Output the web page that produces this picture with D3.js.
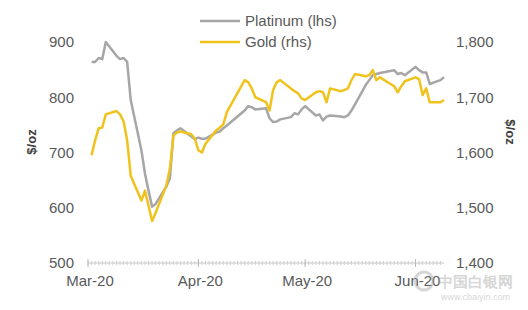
<!DOCTYPE html>
<html>
<head>
<meta charset="utf-8">
<script src="https://cdn.jsdelivr.net/npm/d3@7"></script>
<style>
  body { margin: 0; background: #fff; }
  text { font-family: "Liberation Sans", Arial, sans-serif; }
</style>
</head>
<body>
<div id="chart"></div>
<script>
// Platinum vs gold, daily fixes Mar-Jun 2020
var dates = [
  "2020-03-02","2020-03-03","2020-03-04","2020-03-05","2020-03-06",
  "2020-03-09","2020-03-10","2020-03-11","2020-03-12","2020-03-13",
  "2020-03-16","2020-03-17","2020-03-18","2020-03-19","2020-03-20",
  "2020-03-23","2020-03-24","2020-03-25","2020-03-26","2020-03-27",
  "2020-03-30","2020-03-31","2020-04-01","2020-04-02","2020-04-03",
  "2020-04-06","2020-04-07","2020-04-08","2020-04-09",
  "2020-04-14","2020-04-15","2020-04-16","2020-04-17",
  "2020-04-20","2020-04-21","2020-04-22","2020-04-23","2020-04-24",
  "2020-04-27","2020-04-28","2020-04-29","2020-04-30","2020-05-01",
  "2020-05-04","2020-05-05","2020-05-06","2020-05-07","2020-05-08",
  "2020-05-11","2020-05-12","2020-05-13","2020-05-14","2020-05-15",
  "2020-05-18","2020-05-19","2020-05-20","2020-05-21","2020-05-22",
  "2020-05-26","2020-05-27","2020-05-28","2020-05-29",
  "2020-06-01","2020-06-02","2020-06-03","2020-06-04","2020-06-05",
  "2020-06-08","2020-06-09"
];

var platinum = [
  864, 864, 871, 869, 900,
  875, 869, 871, 864, 795,
  704, 662, 631, 602, 607,
  638, 653, 735, 740, 744,
  729, 724, 727, 725, 725,
  736, 738, 744, 749,
  776, 784, 782, 778,
  780, 762, 755, 756, 760,
  764, 771, 769, 778, 784,
  767, 769, 758, 765, 767,
  765, 764, 767, 776, 787,
  822, 831, 840, 842, 844,
  849, 842, 844, 840,
  855, 849, 845, 845, 824,
  831, 836
];

var gold = [
  1595, 1622, 1644, 1645, 1669,
  1675, 1669, 1656, 1622, 1558,
  1513, 1531, 1504, 1476, 1491,
  1540, 1571, 1631, 1636, 1638,
  1633, 1625, 1604, 1600, 1616,
  1640, 1645, 1651, 1673,
  1731, 1727, 1716, 1700,
  1691, 1676, 1713, 1727, 1731,
  1716, 1711, 1707, 1698, 1695,
  1709, 1711, 1709, 1691, 1716,
  1711, 1713, 1716, 1731, 1742,
  1738, 1740, 1749, 1731, 1736,
  1720, 1709, 1720, 1729,
  1736, 1733, 1704, 1716, 1691,
  1691, 1695
];

var leftTicks = [500, 600, 700, 800, 900];
var rightTicks = [1400, 1500, 1600, 1700, 1800];
var seriesNames = ["Platinum (lhs)", "Gold (rhs)"];
var seriesColors = ["#a6a6a6", "#f0c31c"];

var svgWidth = 528;
var svgHeight = 310;

var margin = { top: 42, right: 84, bottom: 48, left: 88 };
var width = svgWidth - margin.left - margin.right;
var height = svgHeight - margin.top - margin.bottom;

var parseDate = d3.timeParse("%Y-%m-%d");
var data = dates.map(function(d, i) {
  return { date: parseDate(d), platinum: platinum[i], gold: gold[i] };
});

var svg = d3.select("#chart")
  .append("svg")
  .attr("width", svgWidth)
  .attr("height", svgHeight);

var chartGroup = svg.append("g")
  .attr("transform", `translate(${margin.left}, ${margin.top})`);

// scales
var xTimeScale = d3.scaleTime()
  .domain([new Date(2020, 2, 1), new Date(2020, 5, 9)])
  .range([0, width]);

var yLeftScale = d3.scaleLinear()
  .domain([500, 900])
  .range([height + 1, 0]);

var yRightScale = d3.scaleLinear()
  .domain([1400, 1800])
  .range([height + 1, 0]);

// x axis: light line with daily minor ticks and monthly major ticks
var xAxisGroup = chartGroup.append("g")
  .attr("transform", `translate(0, ${height + 1})`);

xAxisGroup.append("line")
  .attr("x1", 0).attr("x2", width)
  .attr("stroke", "#c8c8c8");

xAxisGroup.selectAll(".minor")
  .data(d3.timeDay.range(xTimeScale.domain()[0], xTimeScale.domain()[1]))
  .enter()
  .append("line")
  .attr("x1", d => xTimeScale(d)).attr("x2", d => xTimeScale(d))
  .attr("y1", -2).attr("y2", 2)
  .attr("stroke", "#cfcfcf");

var months = d3.timeMonth.range(new Date(2020, 2, 1), new Date(2020, 5, 2));

xAxisGroup.selectAll(".major")
  .data(months)
  .enter()
  .append("line")
  .attr("x1", d => xTimeScale(d)).attr("x2", d => xTimeScale(d))
  .attr("y1", -4).attr("y2", 4)
  .attr("stroke", "#b8b8b8");

xAxisGroup.selectAll(".mlabel")
  .data(months)
  .enter()
  .append("text")
  .attr("x", d => xTimeScale(d) + 2)
  .attr("y", 23)
  .attr("text-anchor", "middle")
  .attr("font-size", "15px")
  .attr("fill", "#595959")
  .text(d3.timeFormat("%b-%y"));

// y tick labels
chartGroup.selectAll(".lt")
  .data(leftTicks)
  .enter()
  .append("text")
  .attr("x", -14)
  .attr("y", d => yLeftScale(d))
  .attr("dy", "0.35em")
  .attr("text-anchor", "end")
  .attr("font-size", "15px")
  .attr("fill", "#595959")
  .text(d => d3.format(",")(d));

chartGroup.selectAll(".rt")
  .data(rightTicks)
  .enter()
  .append("text")
  .attr("x", width + 12)
  .attr("y", d => yRightScale(d))
  .attr("dy", "0.35em")
  .attr("text-anchor", "start")
  .attr("font-size", "15px")
  .attr("fill", "#595959")
  .text(d => d3.format(",")(d));

// axis titles
chartGroup.append("text")
  .attr("transform", `translate(${-52}, ${height / 2 - 10}) rotate(-90)`)
  .attr("text-anchor", "middle")
  .attr("font-size", "13px")
  .attr("font-weight", "bold")
  .attr("fill", "#404040")
  .text("$/oz");

chartGroup.append("text")
  .attr("transform", `translate(${width + 62}, ${height / 2 - 20}) rotate(90)`)
  .attr("text-anchor", "middle")
  .attr("font-size", "13px")
  .attr("font-weight", "bold")
  .attr("fill", "#404040")
  .text("$/oz");

// lines
var platLine = d3.line()
  .x(d => xTimeScale(d.date))
  .y(d => yLeftScale(d.platinum));

var goldLine = d3.line()
  .x(d => xTimeScale(d.date))
  .y(d => yRightScale(d.gold));

chartGroup.append("path")
  .datum(data)
  .attr("d", platLine)
  .attr("fill", "none")
  .attr("stroke", seriesColors[0])
  .attr("stroke-width", 2.5)
  .attr("stroke-linejoin", "round");

chartGroup.append("path")
  .datum(data)
  .attr("d", goldLine)
  .attr("fill", "none")
  .attr("stroke", seriesColors[1])
  .attr("stroke-width", 2.5)
  .attr("stroke-linejoin", "round");

// legend
var legend = svg.append("g")
  .attr("transform", "translate(200, 21)");

seriesNames.forEach(function(name, i) {
  legend.append("line")
    .attr("x1", 0).attr("x2", 40)
    .attr("y1", i * 21).attr("y2", i * 21)
    .attr("stroke", seriesColors[i])
    .attr("stroke-width", 2.5);
  legend.append("text")
    .attr("x", 45)
    .attr("y", i * 21)
    .attr("dy", "0.35em")
    .attr("font-size", "15px")
    .attr("fill", "#595959")
    .text(name);
});

// faint watermark in the bottom-right corner
var mark = svg.append("g").attr("opacity", 0.4);
mark.append("circle")
  .attr("cx", 424).attr("cy", 281).attr("r", 9)
  .attr("fill", "none").attr("stroke", "#9a9a9a").attr("stroke-width", 3);
mark.append("text")
  .attr("x", 438).attr("y", 287)
  .attr("font-family", "Noto Sans CJK SC")
  .attr("font-size", "15px")
  .attr("font-weight", "bold")
  .attr("fill", "#9a9a9a")
  .text("中国白银网");
mark.append("text")
  .attr("x", 441).attr("y", 300)
  .attr("font-size", "9px")
  .attr("fill", "#9a9a9a")
  .text("www.cbaiyin.com");
</script>
</body>
</html>
